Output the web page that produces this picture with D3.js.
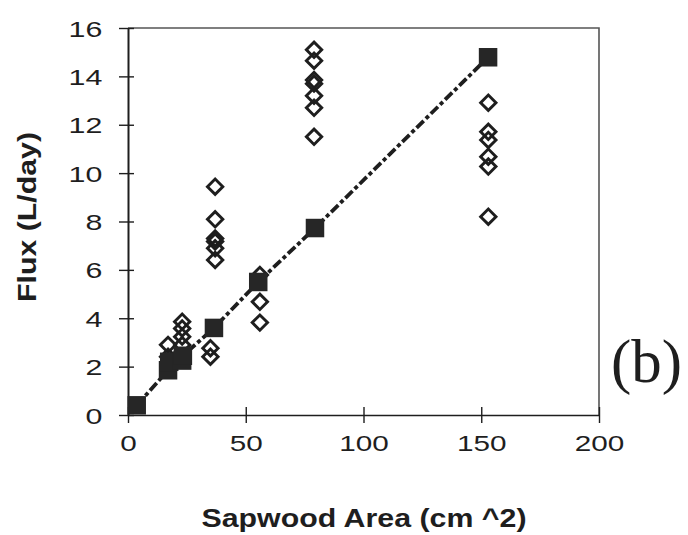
<!DOCTYPE html>
<html>
<head>
<meta charset="utf-8">
<script src="https://cdn.jsdelivr.net/npm/d3@7"></script>
<style>
  html, body { margin: 0; padding: 0; background: #fff; }
  svg { display: block; }
</style>
</head>
<body>
<svg id="chart" width="688" height="535"></svg>
<script>
// Individual tree measurements: sapwood area (cm^2) and daily flux (L/day)
const treeArea = [17, 17, 23, 23, 23, 23, 35, 35, 37, 37, 37, 37, 37, 37,
                  56, 56, 56, 79, 79, 79, 79, 79, 79, 79,
                  153, 153, 153, 153, 153, 153];
const treeFlux = [2.9, 2.41, 3.86, 3.58, 3.24, 2.89, 2.76, 2.41,
                  9.44, 8.09, 7.3, 7.17, 6.89, 6.41,
                  5.79, 4.68, 3.82,
                  15.1, 14.65, 13.85, 13.7, 13.2, 12.7, 11.5,
                  12.91, 11.71, 11.37, 10.68, 10.27, 8.2];

// Mean flux per sapwood area class
const meanArea = [3.7, 17, 17.5, 23, 23.3, 36.5, 55.3, 79.4, 152.9];
const meanFlux = [0.4, 1.85, 2.2, 2.25, 2.45, 3.6, 5.5, 7.73, 14.79];

const xTicks = [0, 50, 100, 150, 200];
const yTicks = [0, 2, 4, 6, 8, 10, 12, 14, 16];

const xTitle = "Sapwood Area (cm ^2)";
const yTitle = "Flux (L/day)";
const panelLabel = "(b)";

const svg = d3.select("#chart");
const plot = { left: 128, right: 599, top: 28, bottom: 415 };
const ink = "#1e1e1e";
const sans = "'Liberation Sans', Arial, Helvetica, sans-serif";

const x = d3.scaleLinear().domain([0, 200]).range([plot.left, plot.right]);
const y = d3.scaleLinear().domain([0, 16]).range([plot.bottom, plot.top]);

// Frame on top and right
svg.append("path")
  .attr("d", `M${plot.left},${plot.top}H${plot.right}V${plot.bottom}`)
  .attr("fill", "none").attr("stroke", "#555").attr("stroke-width", 1.6);

// X axis
const gx = svg.append("g")
  .attr("transform", `translate(0,${plot.bottom})`)
  .call(d3.axisBottom(x).tickValues(xTicks).tickSize(8).tickSizeOuter(0).tickFormat(d3.format("d")));
gx.select(".domain").attr("stroke", ink).attr("stroke-width", 1.6);
gx.selectAll(".tick line").attr("y1", -8).attr("y2", 8).attr("stroke", ink).attr("stroke-width", 1.4);
gx.selectAll(".tick text")
  .attr("y", 20).attr("dy", "0.72em")
  .attr("transform", "scale(1.35,1)")
  .attr("font-family", sans).attr("font-size", 22).attr("fill", ink);

// Y axis
const gy = svg.append("g")
  .attr("transform", `translate(${plot.left},0)`)
  .call(d3.axisLeft(y).tickValues(yTicks).tickSize(8).tickSizeOuter(0).tickFormat(d3.format("d")));
gy.select(".domain").attr("stroke", ink).attr("stroke-width", 2);
gy.selectAll(".tick line").attr("x1", 6).attr("x2", -9).attr("stroke", ink).attr("stroke-width", 1.4);
gy.selectAll(".tick text")
  .attr("x", -19).attr("dy", "0.36em")
  .attr("transform", "scale(1.35,1)")
  .attr("font-family", sans).attr("font-size", 22.5).attr("fill", ink);
gx.attr("font-family", null); gy.attr("font-family", null);

// Dashed line through the class means
const line = d3.line().x(d => x(d[0])).y(d => y(d[1]));
svg.append("path")
  .datum(d3.zip(meanArea, meanFlux))
  .attr("d", line)
  .attr("fill", "none").attr("stroke", ink)
  .attr("stroke-width", 3.8)
  .attr("stroke-dasharray", "10,3,4,3");

// Open diamonds: individual trees
svg.append("g").selectAll("path")
  .data(d3.zip(treeArea, treeFlux))
  .join("path")
  .attr("d", d3.symbol().type(d3.symbolSquare2).size(150))
  .attr("transform", d => `translate(${x(d[0])},${y(d[1])}) rotate(45)`)
  .attr("fill", "none").attr("stroke", ink).attr("stroke-width", 2.9);

// Filled squares: class means
const sq = 18.5;
svg.append("g").selectAll("rect")
  .data(d3.zip(meanArea, meanFlux))
  .join("rect")
  .attr("x", d => x(d[0]) - sq / 2).attr("y", d => y(d[1]) - sq / 2)
  .attr("width", sq).attr("height", sq)
  .attr("fill", "#262626");

// Axis titles
svg.append("text")
  .attr("x", 364).attr("y", 527)
  .attr("text-anchor", "middle")
  .attr("font-family", sans).attr("font-weight", "bold").attr("font-size", 26)
  .attr("textLength", 325).attr("lengthAdjust", "spacingAndGlyphs")
  .attr("fill", ink)
  .text(xTitle);

svg.append("text")
  .attr("transform", "translate(36,217) rotate(-90)")
  .attr("text-anchor", "middle")
  .attr("font-family", sans).attr("font-weight", "bold").attr("font-size", 26)
  .attr("textLength", 170).attr("lengthAdjust", "spacingAndGlyphs")
  .attr("fill", ink)
  .text(yTitle);

// Panel label
svg.append("text")
  .attr("x", 611).attr("y", 382)
  .attr("font-family", "'Liberation Serif', 'Times New Roman', serif")
  .attr("font-size", 62)
  .attr("textLength", 71).attr("lengthAdjust", "spacingAndGlyphs")
  .attr("fill", ink)
  .text(panelLabel);
</script>
</body>
</html>
